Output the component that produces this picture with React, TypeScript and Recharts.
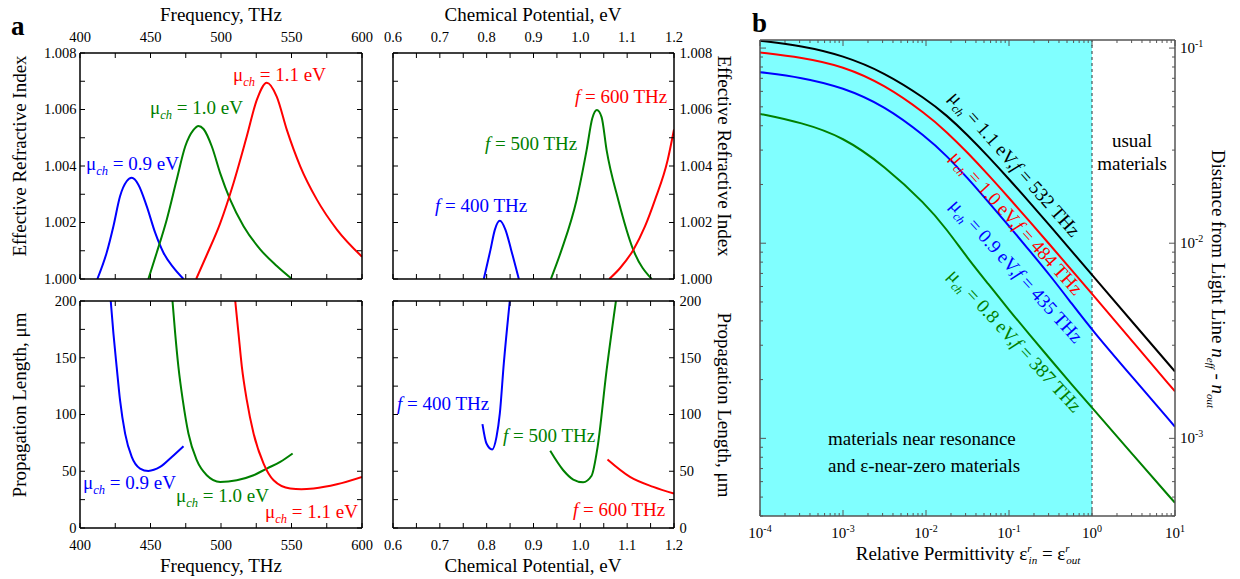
import React from 'react';
import { LineChart, Line, XAxis, YAxis, ReferenceArea, ReferenceLine } from 'recharts';

const SERIF = '"Liberation Serif", "Times New Roman", Times, serif';
const BLUE = '#0000ff';
const GREEN = '#008000';
const RED = '#ff0000';
const W = 1240;
const H = 579;

// a, top left: effective index vs frequency (THz)
const nfBlueFreq = [412.3, 418.9, 423.7, 428.4, 433.1, 436.7, 441.4, 447.3, 453.3, 459.2, 466.3, 473.4];
const nfBlueIdx = [1.0, 1.00093, 1.00187, 1.00293, 1.00346, 1.00358, 1.00334, 1.00258, 1.00164, 1.00093, 1.0004, 1.0];
const nfGreenFreq = [448.5, 454.4, 461.5, 468.6, 474.6, 480.5, 484.0, 487.6, 493.5, 499.4, 506.5, 516.0, 527.8, 539.6, 550.3];
const nfGreenIdx = [1.0, 1.00093, 1.0021, 1.00352, 1.00469, 1.00528, 1.00542, 1.00531, 1.00469, 1.00375, 1.00281, 1.00187, 1.00105, 1.00046, 1.0];
const nfRedFreq = [482.4, 489.9, 499.4, 508.9, 518.3, 525.4, 532.5, 539.6, 546.7, 556.2, 568.0, 582.2, 600];
const nfRedIdx = [1.0, 1.00085, 1.00197, 1.0034, 1.00505, 1.00634, 1.00695, 1.00645, 1.00528, 1.00399, 1.00281, 1.00175, 1.00079];

// a, top right: effective index vs chemical potential (eV)
const nmBlueMu = [0.7939, 0.8081, 0.8174, 0.8281, 0.8402, 0.8523, 0.8687];
const nmBlueIdx = [1.0, 1.00103, 1.00174, 1.00206, 1.00174, 1.00103, 1.0];
const nmGreenMu = [0.9371, 0.9599, 0.992, 1.0134, 1.0254, 1.0354, 1.0454, 1.0561, 1.081, 1.1131, 1.1523];
const nmGreenIdx = [1.0, 1.00103, 1.0028, 1.00456, 1.00568, 1.00598, 1.00573, 1.00456, 1.0028, 1.00103, 1.0];
const nmRedMu = [1.0618, 1.085, 1.1131, 1.138, 1.1594, 1.1865, 1.2];
const nmRedIdx = [1.0, 1.00039, 1.00103, 1.00186, 1.0028, 1.00421, 1.00529];

// a, bottom left: propagation length (um) vs frequency
const lfBlueFreq = [421.8, 423.7, 426.0, 428.4, 432.0, 436.7, 442.6, 448.5, 456.8, 465.1, 473.4];
const lfBlueLen = [200, 171.5, 142, 112.6, 83.2, 62.6, 52.4, 50.3, 53.8, 62.6, 72.1];
const lfGreenFreq = [465.6, 467.5, 469.8, 472.9, 476.9, 482.8, 489.9, 499.4, 511.2, 523.1, 532.5, 542.0, 550.8];
const lfGreenLen = [200, 171.5, 142, 112.6, 83.2, 59.7, 46.5, 40.6, 42.1, 46.5, 52.4, 58.2, 65.6];
const lfRedFreq = [510.1, 512.4, 514.8, 518.3, 523.1, 530.2, 537.3, 549.1, 557.0, 565.7, 582.2, 600];
const lfRedLen = [200, 171.5, 142, 112.6, 83.2, 56.8, 42.1, 34.8, 34.2, 34.9, 38.5, 45];

// a, bottom right: propagation length vs chemical potential
const lmBlueMu = [0.791, 0.7996, 0.8117, 0.821, 0.8281, 0.8366, 0.8494];
const lmBlueLen = [91.5, 74.4, 69.2, 80.3, 100.9, 145, 200];
const lmGreenMu = [0.9357, 0.9635, 0.9849, 1.006, 1.024, 1.0369, 1.0561, 1.076];
const lmGreenLen = [68, 50.9, 42.7, 40.3, 46, 71.5, 139, 200];
const lmRedMu = [1.058, 1.106, 1.1558, 1.2];
const lmRedLen = [60.3, 45, 36.2, 30.3];

// b: distance from light line vs relative permittivity
const permittivity = [1e-4, 3.16e-4, 1e-3, 3.16e-3, 1e-2, 1.78e-2, 3.16e-2, 5.62e-2, 0.1, 0.178, 0.316, 0.562, 1, 3.16, 10];
const dist11 = [0.109, 0.1029, 0.0917, 0.075, 0.0549, 0.0452, 0.0359, 0.02785, 0.02131, 0.01617, 0.01219, 0.00917, 0.00688, 0.00389, 0.0022];
const dist10 = [0.0949, 0.0896, 0.0808, 0.0649, 0.04597, 0.03715, 0.02917, 0.02245, 0.01707, 0.01291, 0.00974, 0.00732, 0.0055, 0.003094, 0.00174];
const dist09 = [0.0753, 0.0708, 0.0629, 0.0506, 0.0351, 0.02803, 0.02162, 0.01629, 0.01227, 0.00913, 0.0068, 0.00494, 0.00359, 0.002026, 0.001147];
const dist08 = [0.046, 0.0416, 0.0351, 0.02491, 0.01581, 0.01177, 0.0084, 0.00619, 0.00455, 0.00339, 0.002535, 0.0019, 0.001439, 0.000816, 0.000467];

// ticks
const freqTicks = [400, 425, 450, 475, 500, 525, 550, 575, 600];
const freqLabels = [400, 450, 500, 550, 600];
const muTicks = [0.6, 0.65, 0.7, 0.75, 0.8, 0.85, 0.9, 0.95, 1.0, 1.05, 1.1, 1.15, 1.2];
const muLabels = [0.6, 0.7, 0.8, 0.9, 1.0, 1.1, 1.2];
const idxTicks = [1.0, 1.001, 1.002, 1.003, 1.004, 1.005, 1.006, 1.007, 1.008];
const idxLabels = [1.0, 1.002, 1.004, 1.006, 1.008];
const lenTicks = [0, 25, 50, 75, 100, 125, 150, 175, 200];
const lenLabels = [0, 50, 100, 150, 200];
const permDecades = [1e-4, 1e-3, 1e-2, 1e-1, 1, 10];
const distDecades = [1e-4, 1e-3, 1e-2, 1e-1];
const distLabels = [1e-3, 1e-2, 1e-1];
const distDomain: [number, number] = [4e-4, 0.11];

const mult = [1, 2, 3, 4, 5, 6, 7, 8, 9];
const permTicks = permDecades.flatMap((d) => (d === 10 ? [d] : mult.map((m) => m * d)));
const distTicks = distDecades
  .flatMap((d) => mult.map((m) => m * d))
  .filter((v) => v >= distDomain[0] && v <= distDomain[1]);

const pts = (xs: number[], ys: number[]) => xs.map((x, i) => ({ x, y: ys[i] }));

type Side = 'top' | 'bottom' | 'left' | 'right';

interface TickCfg {
  side: Side;
  edge: number;
  major: number[];
  label?: (v: number) => React.ReactNode;
  majorLen: number;
  minorLen: number;
  gap: number;
  fontSize: number;
  color: string;
}

const isIn = (list: number[], v: number) =>
  list.some((m) => Math.abs(m - v) <= Math.abs(m) * 1e-6 + 1e-12);

// ticks point into the plot, labels sit outside
const makeTick = (c: TickCfg) => (props: any) => {
  const v = Number(props.payload.value);
  const horiz = c.side === 'top' || c.side === 'bottom';
  const at = horiz ? props.x : props.y;
  const major = isIn(c.major, v);
  const len = major ? c.majorLen : c.minorLen;
  const txt = c.label && major ? c.label(v) : null;
  const textProps = { fontSize: c.fontSize, fontFamily: SERIF, fill: '#000' };
  if (horiz) {
    const dir = c.side === 'bottom' ? -1 : 1;
    return (
      <g>
        <line x1={at} x2={at} y1={c.edge} y2={c.edge + dir * len} stroke={c.color} strokeWidth={1} />
        {txt !== null && (
          <text x={at} y={c.side === 'bottom' ? c.edge + c.gap : c.edge - c.gap} textAnchor="middle" {...textProps}>
            {txt}
          </text>
        )}
      </g>
    );
  }
  const dir = c.side === 'left' ? 1 : -1;
  return (
    <g>
      <line x1={c.edge} x2={c.edge + dir * len} y1={at} y2={at} stroke={c.color} strokeWidth={1} />
      {txt !== null && (
        <text
          x={c.side === 'left' ? c.edge - c.gap : c.edge + c.gap}
          y={at + c.fontSize * 0.34}
          textAnchor={c.side === 'left' ? 'end' : 'start'}
          {...textProps}
        >
          {txt}
        </text>
      )}
    </g>
  );
};

interface Series {
  color: string;
  data: { x: number; y: number }[];
}

interface PanelProps {
  x0: number;
  x1: number;
  y0: number;
  y1: number;
  xDomain: [number, number];
  yDomain: [number, number];
  xTicks: number[];
  yTicks: number[];
  xMajor: number[];
  yMajor: number[];
  xLabelSide: 'top' | 'bottom';
  yLabelSide: 'left' | 'right';
  xFmt: (v: number) => React.ReactNode;
  yFmt: (v: number) => React.ReactNode;
  series: Series[];
  log?: boolean;
  curve?: 'monotone' | 'basis';
  axisColor?: string;
  fontSize?: number;
  majorLen?: number;
  minorLen?: number;
  xGap?: [number, number];
  yGap?: [number, number];
  children?: React.ReactNode;
}

const Panel: React.FC<PanelProps> = (p) => {
  const color = p.axisColor ?? '#000';
  const fs = p.fontSize ?? 14.5;
  const majorLen = p.majorLen ?? 5;
  const minorLen = p.minorLen ?? 5;
  const [gb, gt] = p.xGap ?? [22, 11];
  const [gl, gr] = p.yGap ?? [3.5, 5.5];
  const scale = p.log ? 'log' : 'linear';
  const axisLine = { stroke: color, strokeWidth: 1.5 };
  const cfg = (side: Side, edge: number, major: number[], fmt: ((v: number) => React.ReactNode) | undefined, gap: number) =>
    makeTick({ side, edge, major, label: fmt, majorLen, minorLen, gap, fontSize: fs, color });
  // every axis is 1px thick, so the margins leave exactly the plot box
  return (
    <div style={{ position: 'absolute', left: 0, top: 0 }}>
      <LineChart
        width={W}
        height={H}
        margin={{ left: p.x0 - 1, right: W - p.x1 - 1, top: p.y0 - 1, bottom: H - p.y1 - 1 }}
      >
        <XAxis
          xAxisId="b"
          dataKey="x"
          type="number"
          scale={scale}
          domain={p.xDomain}
          allowDataOverflow
          ticks={p.xTicks}
          interval={0}
          height={1}
          tickSize={0}
          tickLine={false}
          axisLine={axisLine}
          tick={cfg('bottom', p.y1, p.xMajor, p.xLabelSide === 'bottom' ? p.xFmt : undefined, gb)}
        />
        <XAxis
          xAxisId="t"
          orientation="top"
          dataKey="x"
          type="number"
          scale={scale}
          domain={p.xDomain}
          allowDataOverflow
          ticks={p.xTicks}
          interval={0}
          height={1}
          tickSize={0}
          tickLine={false}
          axisLine={axisLine}
          tick={cfg('top', p.y0, p.xMajor, p.xLabelSide === 'top' ? p.xFmt : undefined, gt)}
        />
        <YAxis
          yAxisId="l"
          type="number"
          scale={scale}
          domain={p.yDomain}
          allowDataOverflow
          ticks={p.yTicks}
          interval={0}
          width={1}
          tickSize={0}
          tickLine={false}
          axisLine={axisLine}
          tick={cfg('left', p.x0, p.yMajor, p.yLabelSide === 'left' ? p.yFmt : undefined, gl)}
        />
        <YAxis
          yAxisId="r"
          orientation="right"
          type="number"
          scale={scale}
          domain={p.yDomain}
          allowDataOverflow
          ticks={p.yTicks}
          interval={0}
          width={1}
          tickSize={0}
          tickLine={false}
          axisLine={axisLine}
          tick={cfg('right', p.x1, p.yMajor, p.yLabelSide === 'right' ? p.yFmt : undefined, gr)}
        />
        {p.children}
        {p.series.map((s, i) => (
          <Line
            key={i}
            xAxisId="b"
            yAxisId="l"
            data={s.data}
            dataKey="y"
            type={p.curve ?? 'monotone'}
            stroke={s.color}
            strokeWidth={2}
            dot={false}
            activeDot={false}
            isAnimationActive={false}
          />
        ))}
      </LineChart>
    </div>
  );
};

const pow10 = (v: number) => (
  <>
    <tspan>10</tspan>
    <tspan dy={-6} fontSize={10}>
      {Math.round(Math.log10(v))}
    </tspan>
  </>
);

const MuLabel: React.FC<{ x: number; y: number; color: string; value: string }> = ({ x, y, color, value }) => (
  <text x={x} y={y} fill={color} fontSize={19}>
    μ
    <tspan fontSize={12.5} fontStyle="italic" dy={5}>
      ch
    </tspan>
    <tspan dy={-5}>{` = ${value} eV`}</tspan>
  </text>
);

const FreqLabel: React.FC<{ x: number; y: number; color: string; value: string }> = ({ x, y, color, value }) => (
  <text x={x} y={y} fill={color} fontSize={19}>
    <tspan fontStyle="italic">f</tspan>
    <tspan>{` = ${value} THz`}</tspan>
  </text>
);

const CurveNote: React.FC<{ x: number; y: number; angle: number; color: string; mu: string; f: string }> = ({
  x,
  y,
  angle,
  color,
  mu,
  f,
}) => (
  <text transform={`translate(${x},${y}) rotate(${angle})`} fill={color} fontSize={19}>
    μ
    <tspan fontSize={12} fontStyle="italic" dy={5}>
      ch
    </tspan>
    <tspan dy={-5}>{` = ${mu} eV,`}</tspan>
    <tspan fontStyle="italic">f</tspan>
    <tspan>{` = ${f} THz`}</tspan>
  </text>
);

export default function App() {
  return (
    <div style={{ position: 'absolute', left: 0, top: 0, width: W, height: H, background: '#fff', fontFamily: SERIF }}>
      <Panel
        x0={80}
        x1={362}
        y0={53}
        y1={279}
        xDomain={[400, 600]}
        yDomain={[1.0, 1.008]}
        xTicks={freqTicks}
        yTicks={idxTicks}
        xMajor={freqLabels}
        yMajor={idxLabels}
        xLabelSide="top"
        yLabelSide="left"
        xFmt={(v) => String(v)}
        yFmt={(v) => v.toFixed(3)}
        series={[
          { color: BLUE, data: pts(nfBlueFreq, nfBlueIdx) },
          { color: GREEN, data: pts(nfGreenFreq, nfGreenIdx) },
          { color: RED, data: pts(nfRedFreq, nfRedIdx) },
        ]}
      />
      <Panel
        x0={393}
        x1={674}
        y0={53}
        y1={279}
        xDomain={[0.6, 1.2]}
        yDomain={[1.0, 1.008]}
        xTicks={muTicks}
        yTicks={idxTicks}
        xMajor={muLabels}
        yMajor={idxLabels}
        xLabelSide="top"
        yLabelSide="right"
        xFmt={(v) => v.toFixed(1)}
        yFmt={(v) => v.toFixed(3)}
        series={[
          { color: BLUE, data: pts(nmBlueMu, nmBlueIdx) },
          { color: GREEN, data: pts(nmGreenMu, nmGreenIdx) },
          { color: RED, data: pts(nmRedMu, nmRedIdx) },
        ]}
      />
      <Panel
        x0={80}
        x1={362}
        y0={301}
        y1={528}
        xDomain={[400, 600]}
        yDomain={[0, 200]}
        xTicks={freqTicks}
        yTicks={lenTicks}
        xMajor={freqLabels}
        yMajor={lenLabels}
        xLabelSide="bottom"
        yLabelSide="left"
        xFmt={(v) => String(v)}
        yFmt={(v) => String(v)}
        series={[
          { color: BLUE, data: pts(lfBlueFreq, lfBlueLen) },
          { color: GREEN, data: pts(lfGreenFreq, lfGreenLen) },
          { color: RED, data: pts(lfRedFreq, lfRedLen) },
        ]}
      />
      <Panel
        x0={393}
        x1={674}
        y0={301}
        y1={528}
        xDomain={[0.6, 1.2]}
        yDomain={[0, 200]}
        xTicks={muTicks}
        yTicks={lenTicks}
        xMajor={muLabels}
        yMajor={lenLabels}
        xLabelSide="bottom"
        yLabelSide="right"
        xFmt={(v) => v.toFixed(1)}
        yFmt={(v) => String(v)}
        series={[
          { color: BLUE, data: pts(lmBlueMu, lmBlueLen) },
          { color: GREEN, data: pts(lmGreenMu, lmGreenLen) },
          { color: RED, data: pts(lmRedMu, lmRedLen) },
        ]}
      />
      <Panel
        x0={760}
        x1={1175}
        y0={40}
        y1={516}
        log
        curve="basis"
        xDomain={[1e-4, 10]}
        yDomain={distDomain}
        xTicks={permTicks}
        yTicks={distTicks}
        xMajor={permDecades}
        yMajor={distLabels}
        xLabelSide="bottom"
        yLabelSide="right"
        xFmt={pow10}
        yFmt={pow10}
        axisColor="#555"
        fontSize={15}
        majorLen={6}
        minorLen={3}
        xGap={[22, 11]}
        yGap={[3.5, 5]}
        series={[
          { color: '#000', data: pts(permittivity, dist11) },
          { color: RED, data: pts(permittivity, dist10) },
          { color: BLUE, data: pts(permittivity, dist09) },
          { color: GREEN, data: pts(permittivity, dist08) },
        ]}
      >
        <ReferenceArea xAxisId="b" yAxisId="l" x1={1e-4} x2={1} fill="#80ffff" fillOpacity={1} stroke="none" />
        <ReferenceLine xAxisId="b" yAxisId="l" x={1} stroke="#333" strokeWidth={1} strokeDasharray="3 3" />
      </Panel>

      <svg
        width={W}
        height={H}
        style={{ position: 'absolute', left: 0, top: 0, pointerEvents: 'none' }}
        fontFamily={SERIF}
      >
        <text x={11} y={35} fontSize={27} fontWeight="bold">a</text>
        <text x={752} y={32} fontSize={27} fontWeight="bold">b</text>

        <text x={221} y={21} fontSize={19} textAnchor="middle">Frequency, THz</text>
        <text x={533} y={21} fontSize={19} textAnchor="middle">Chemical Potential, eV</text>
        <text x={221} y={572} fontSize={19} textAnchor="middle">Frequency, THz</text>
        <text x={533} y={572} fontSize={19} textAnchor="middle">Chemical Potential, eV</text>
        <text transform="translate(26,156) rotate(-90)" fontSize={19} textAnchor="middle">
          Effective Refractive Index
        </text>
        <text transform="translate(26,405) rotate(-90)" fontSize={19} textAnchor="middle">
          Propagation Length, μm
        </text>
        <text transform="translate(718,156) rotate(90)" fontSize={19} textAnchor="middle">
          Effective Refractive Index
        </text>
        <text transform="translate(718,405) rotate(90)" fontSize={19} textAnchor="middle">
          Propagation Length, μm
        </text>

        <MuLabel x={86} y={170} color={BLUE} value="0.9" />
        <MuLabel x={150} y={114} color={GREEN} value="1.0" />
        <MuLabel x={233} y={81} color={RED} value="1.1" />
        <FreqLabel x={575} y={103} color={RED} value="600" />
        <FreqLabel x={485} y={150} color={GREEN} value="500" />
        <FreqLabel x={435} y={212} color={BLUE} value="400" />

        <MuLabel x={83} y={489} color={BLUE} value="0.9" />
        <MuLabel x={176} y={502} color={GREEN} value="1.0" />
        <MuLabel x={265} y={518} color={RED} value="1.1" />
        <FreqLabel x={397} y={410} color={BLUE} value="400" />
        <FreqLabel x={503} y={442} color={GREEN} value="500" />
        <FreqLabel x={573} y={516} color={RED} value="600" />

        <CurveNote x={948} y={98} angle={48.5} color="#000" mu="1.1" f="532" />
        <CurveNote x={949} y={158} angle={47.7} color={RED} mu="1.0" f="484" />
        <CurveNote x={949} y={206} angle={47.7} color={BLUE} mu="0.9" f="435" />
        <CurveNote x={947} y={276} angle={47.4} color={GREEN} mu="0.8" f="387" />

        <text x={1132} y={147} fontSize={19} textAnchor="middle">usual</text>
        <text x={1132} y={170} fontSize={19} textAnchor="middle">materials</text>
        <text x={828} y={445} fontSize={19}>materials near resonance</text>
        <text x={828} y={472} fontSize={19}>and ε-near-zero materials</text>

        <text x={968} y={560} fontSize={19} textAnchor="middle">
          Relative Permittivity ε
          <tspan fontSize={11} fontStyle="italic" dy={-8}>r</tspan>
          <tspan fontSize={11} fontStyle="italic" dx={-3} dy={12}>in</tspan>
          <tspan dy={-4}> = ε</tspan>
          <tspan fontSize={11} fontStyle="italic" dy={-8}>r</tspan>
          <tspan fontSize={11} fontStyle="italic" dx={-3} dy={12}>out</tspan>
        </text>
        <text transform="translate(1212,279) rotate(90)" fontSize={19} textAnchor="middle">
          Distance from Light Line <tspan fontStyle="italic">n</tspan>
          <tspan fontSize={11} fontStyle="italic" dy={5}>eff</tspan>
          <tspan dy={-5}> - </tspan>
          <tspan fontStyle="italic">n</tspan>
          <tspan fontSize={11} fontStyle="italic" dy={5}>out</tspan>
        </text>
      </svg>
    </div>
  );
}
